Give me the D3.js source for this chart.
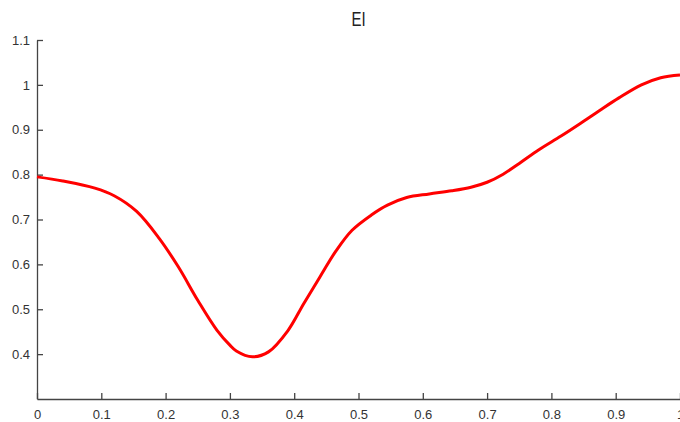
<!DOCTYPE html>
<html>
<head>
<meta charset="utf-8">
<script src="https://cdn.jsdelivr.net/npm/d3@7"></script>
<style>
  body { margin: 0; background: #fff; }
  svg { display: block; font-family: "Liberation Sans", Arial, sans-serif; }
</style>
</head>
<body>
<div id="chart-area"></div>
<script>
// data
const xValues = [0, 0.04, 0.09, 0.12, 0.155, 0.19, 0.22, 0.25, 0.28, 0.3, 0.31, 0.335, 0.36, 0.39,
  0.415, 0.44, 0.465, 0.49, 0.52, 0.545, 0.575, 0.61, 0.645, 0.675, 0.7, 0.725, 0.75, 0.78, 0.815,
  0.845, 0.875, 0.905, 0.94, 0.97, 1.0];
const eiValues = [0.795, 0.786, 0.770, 0.753, 0.718, 0.658, 0.594, 0.520, 0.453, 0.420, 0.407, 0.394, 0.405, 0.452,
  0.513, 0.572, 0.630, 0.676, 0.710, 0.732, 0.749, 0.757, 0.764, 0.772, 0.783, 0.801, 0.825, 0.855, 0.886,
  0.914, 0.943, 0.971, 1.0, 1.016, 1.022];
const xTicks = [0, 0.1, 0.2, 0.3, 0.4, 0.5, 0.6, 0.7, 0.8, 0.9, 1];
const yTicks = [0.4, 0.5, 0.6, 0.7, 0.8, 0.9, 1, 1.1];
const title = 'EI';

//************* Canvas Set Up *************//
const W = 680, H = 422;
const margin = { left: 37, right: 0, top: 40, bottom: 23 };
const width = W - margin.left - margin.right;
const height = H - margin.top - margin.bottom;

const svg = d3.select('#chart-area').append('svg')
  .attr('width', W)
  .attr('height', H);

const g = svg.append('g')
  .attr('transform', 'translate(' + margin.left + ', ' + margin.top + ')');

const x = d3.scaleLinear().domain([0, 1]).range([0, width]);
const y = d3.scaleLinear().domain([0.3, 1.1]).range([height, 0]);

// x axis
const xAxis = g.append('g')
  .attr('transform', 'translate(0, ' + height + ')')
  .call(d3.axisBottom(x).tickValues(xTicks).tickFormat(d3.format('')).tickSizeInner(-6).tickSizeOuter(0).tickPadding(11));

// y axis
const yAxis = g.append('g')
  .call(d3.axisLeft(y).tickValues(yTicks).tickFormat(d3.format('')).tickSizeInner(-6).tickSizeOuter(0).tickPadding(7));

[xAxis, yAxis].forEach(a => {
  a.attr('font-family', '"Liberation Sans", Arial, sans-serif').attr('font-size', 13);
  a.select('.domain').attr('stroke', '#444').attr('stroke-width', 1.3);
  a.selectAll('.tick line').attr('stroke', '#444').attr('stroke-width', 1.3);
  a.selectAll('.tick text').attr('fill', '#333');
});

// line
const line = d3.line()
  .x((d, i) => x(xValues[i]))
  .y(d => y(d))
  .curve(d3.curveCatmullRom);

g.append('path')
  .datum(eiValues)
  .attr('fill', 'none')
  .attr('stroke', '#ff0000')
  .attr('stroke-width', 3)
  .attr('d', line);

// title
svg.append('text')
  .attr('transform', 'translate(' + (margin.left + width / 2) + ', 26) scale(0.75, 1)')
  .attr('text-anchor', 'middle')
  .attr('font-size', '20px')
  .attr('fill', '#222')
  .text(title);
</script>
</body>
</html>
